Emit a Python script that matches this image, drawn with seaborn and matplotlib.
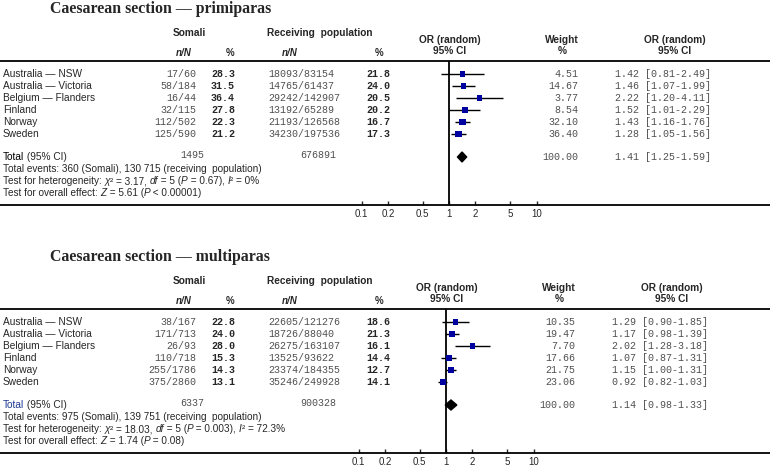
import matplotlib
matplotlib.use("Agg")
import matplotlib.pyplot as plt
import seaborn as sns
import pandas as pd

sns.set_style("white")
plt.rcParams['font.family'] = ['Liberation Sans', 'DejaVu Sans']

# --- data ---
countries = ["Australia — NSW", "Australia — Victoria", "Belgium — Flanders",
             "Finland", "Norway", "Sweden"]

# primiparas
prim_som_nN = ["17/60", "58/184", "16/44", "32/115", "112/502", "125/590"]
prim_som_pct = [28.3, 31.5, 36.4, 27.8, 22.3, 21.2]
prim_rec_nN = ["18093/83154", "14765/61437", "29242/142907", "13192/65289",
               "21193/126568", "34230/197536"]
prim_rec_pct = [21.8, 24.0, 20.5, 20.2, 16.7, 17.3]
prim_weight = [4.51, 14.67, 3.77, 8.54, 32.10, 36.40]
prim_or = [1.42, 1.46, 2.22, 1.52, 1.43, 1.28]
prim_lo = [0.81, 1.07, 1.20, 1.01, 1.16, 1.05]
prim_hi = [2.49, 1.99, 4.11, 2.29, 1.76, 1.56]
prim_total = ["1495", "676891", 1.41, 1.25, 1.59]
# *...* marks italic pieces
prim_notes = ["Total events: 360 (Somali), 130 715 (receiving  population)",
              "Test for heterogeneity: *χ*² = 3.17, *df* = 5 (*P* = 0.67), *I*² = 0%",
              "Test for overall effect: *Z* = 5.61 (*P* < 0.00001)"]

# multiparas
mult_som_nN = ["38/167", "171/713", "26/93", "110/718", "255/1786", "375/2860"]
mult_som_pct = [22.8, 24.0, 28.0, 15.3, 14.3, 13.1]
mult_rec_nN = ["22605/121276", "18726/88040", "26275/163107", "13525/93622",
               "23374/184355", "35246/249928"]
mult_rec_pct = [18.6, 21.3, 16.1, 14.4, 12.7, 14.1]
mult_weight = [10.35, 19.47, 7.70, 17.66, 21.75, 23.06]
mult_or = [1.29, 1.17, 2.02, 1.07, 1.15, 0.92]
mult_lo = [0.90, 0.98, 1.28, 0.87, 1.00, 0.82]
mult_hi = [1.85, 1.39, 3.18, 1.31, 1.31, 1.03]
mult_total = ["6337", "900328", 1.14, 0.98, 1.33]
mult_notes = ["Total events: 975 (Somali), 139 751 (receiving  population)",
              "Test for heterogeneity: *χ*² = 18.03, *df* = 5 (*P* = 0.003), *I*² = 72.3%",
              "Test for overall effect: *Z* = 1.74 (*P* = 0.08)"]

ticks = [0.1, 0.2, 0.5, 1, 2, 5, 10]
tick_labels = ["0.1", "0.2", "0.5", "1", "2", "5", "10"]

W, H = 770, 466
fig = plt.figure(figsize=(W / 100, H / 100), dpi=100)

MONO = 'Liberation Mono'
SQ = '#0000A0'
GREY = '#505050'


def panel(top, x1, title, som_nN, som_pct, rec_nN, rec_pct, weight, est, lo, hi,
          total, notes, total_color='black'):
    bottom = top + 144
    ax = fig.add_axes([0, (H - bottom) / H, 1, 144 / H])
    dec = 87.5
    ax.set_xscale('log')
    rows = [13 + 12 * i for i in range(len(countries))]
    df = pd.DataFrame({'or': est, 'lo': lo, 'hi': hi, 'w': weight, 'y': rows})

    ax.hlines(df['y'], df['lo'], df['hi'], color='black', lw=1, zorder=2)
    sns.scatterplot(data=df, x='or', y='y', size='w', sizes=(12, 26),
                    size_norm=(0, 40), marker='s', color=SQ, edgecolor=SQ,
                    linewidth=0, legend=False, ax=ax, zorder=3)

    # pooled diamond
    ty = 96
    ax.fill([total[3], total[2], total[4], total[2]],
            [ty, ty - 5, ty, ty + 5], color='black', zorder=3)

    ax.axvline(1, color='black', lw=1.3, zorder=1)
    ax.set_xlim(10 ** (-x1 / dec), 10 ** ((W - x1) / dec))
    ax.set_ylim(144, 0)
    ax.set_xlabel('')
    ax.set_ylabel('')
    ax.set_yticks([])
    ax.set_xticks(ticks)
    ax.set_xticklabels(tick_labels)
    ax.minorticks_off()
    ax.tick_params(axis='x', direction='in', length=3, width=1, pad=3,
                   labelsize=7, bottom=True)
    for s in ['left', 'right']:
        ax.spines[s].set_visible(False)
    for s in ['top', 'bottom']:
        ax.spines[s].set_linewidth(1.3)
        ax.spines[s].set_color('black')

    tr = ax.get_yaxis_transform()
    sh = x1 - 449

    def t(xp, y, s, **kw):
        kw.setdefault('va', 'center')
        kw.setdefault('fontsize', 7.3)
        return ax.text(xp / W, y, s, transform=tr, clip_on=False, **kw)

    def rich(xp, y, s, size=7.2):
        # chain plain / italic pieces one after another
        parts = s.split('*')
        prev = t(xp, y, parts[0], fontsize=size, va='baseline')
        for j, p in enumerate(parts[1:], start=1):
            if not p:
                continue
            prev = ax.annotate(p, xy=(1, 0), xycoords=prev, va='bottom', ha='left',
                               fontsize=size, style='italic' if j % 2 else 'normal')
        return prev

    # title and headers
    t(50, -52, title, family='Liberation Serif', fontweight='bold', fontsize=11.4)
    t(189, -28, "Somali", ha='center', fontweight='bold', fontsize=7.3)
    t(320, -28, "Receiving  population", ha='center', fontweight='bold', fontsize=7.3)
    t(184, -8, "n/N", ha='center', fontweight='bold', style='italic', fontsize=7)
    t(230, -8, "%", ha='center', fontweight='bold', fontsize=7)
    t(290, -8, "n/N", ha='center', fontweight='bold', style='italic', fontsize=7)
    t(379, -8, "%", ha='center', fontweight='bold', fontsize=7)
    for xc, a, b in [(450 + sh, "OR (random)", "95% CI"), (562 + sh, "Weight", "%"),
                     (675 + sh, "OR (random)", "95% CI")]:
        t(xc, -21, a, ha='center', fontweight='bold', fontsize=7.3)
        t(xc, -10, b, ha='center', fontweight='bold', fontsize=7.3)

    # rows
    for i, y in enumerate(rows):
        t(3, y, countries[i])
        t(196, y, som_nN[i], family=MONO, ha='right', color=GREY, fontsize=7.2)
        t(235, y, f"{som_pct[i]:.1f}", family=MONO, ha='right', fontweight='bold', fontsize=7.2)
        t(268, y, rec_nN[i], family=MONO, ha='left', color=GREY, fontsize=7.2)
        t(390, y, f"{rec_pct[i]:.1f}", family=MONO, ha='right', fontweight='bold', fontsize=7.2)
        t(578 + sh, y, f"{weight[i]:.2f}", family=MONO, ha='right', color=GREY, fontsize=7.2)
        t(615 + sh, y, f"{est[i]:.2f} [{lo[i]:.2f}-{hi[i]:.2f}]", family=MONO,
          ha='left', color=GREY, fontsize=7.2)

    # totals
    lab = t(3, ty, "Total", color=total_color)
    ax.annotate(" (95% CI)", xy=(1, 0.5), xycoords=lab, va='center', ha='left',
                fontsize=7.3)
    t(192, ty - 2, total[0], family=MONO, ha='center', color=GREY, fontsize=7.2)
    t(318, ty - 2, total[1], family=MONO, ha='center', color=GREY, fontsize=7.2)
    t(578 + sh, ty, f"{100:.2f}", family=MONO, ha='right', color=GREY, fontsize=7.2)
    t(615 + sh, ty, f"{total[2]:.2f} [{total[3]:.2f}-{total[4]:.2f}]", family=MONO,
      ha='left', color=GREY, fontsize=7.2)
    for k, note in enumerate(notes):
        rich(3, 111 + 12 * k, note)
    return ax


panel(61, 449, "Caesarean section — primiparas", prim_som_nN, prim_som_pct,
      prim_rec_nN, prim_rec_pct, prim_weight, prim_or, prim_lo, prim_hi,
      prim_total, prim_notes)
panel(309, 446, "Caesarean section — multiparas", mult_som_nN, mult_som_pct,
      mult_rec_nN, mult_rec_pct, mult_weight, mult_or, mult_lo, mult_hi,
      mult_total, mult_notes, total_color='#1f3a93')

fig.savefig("out.png", dpi=100)
